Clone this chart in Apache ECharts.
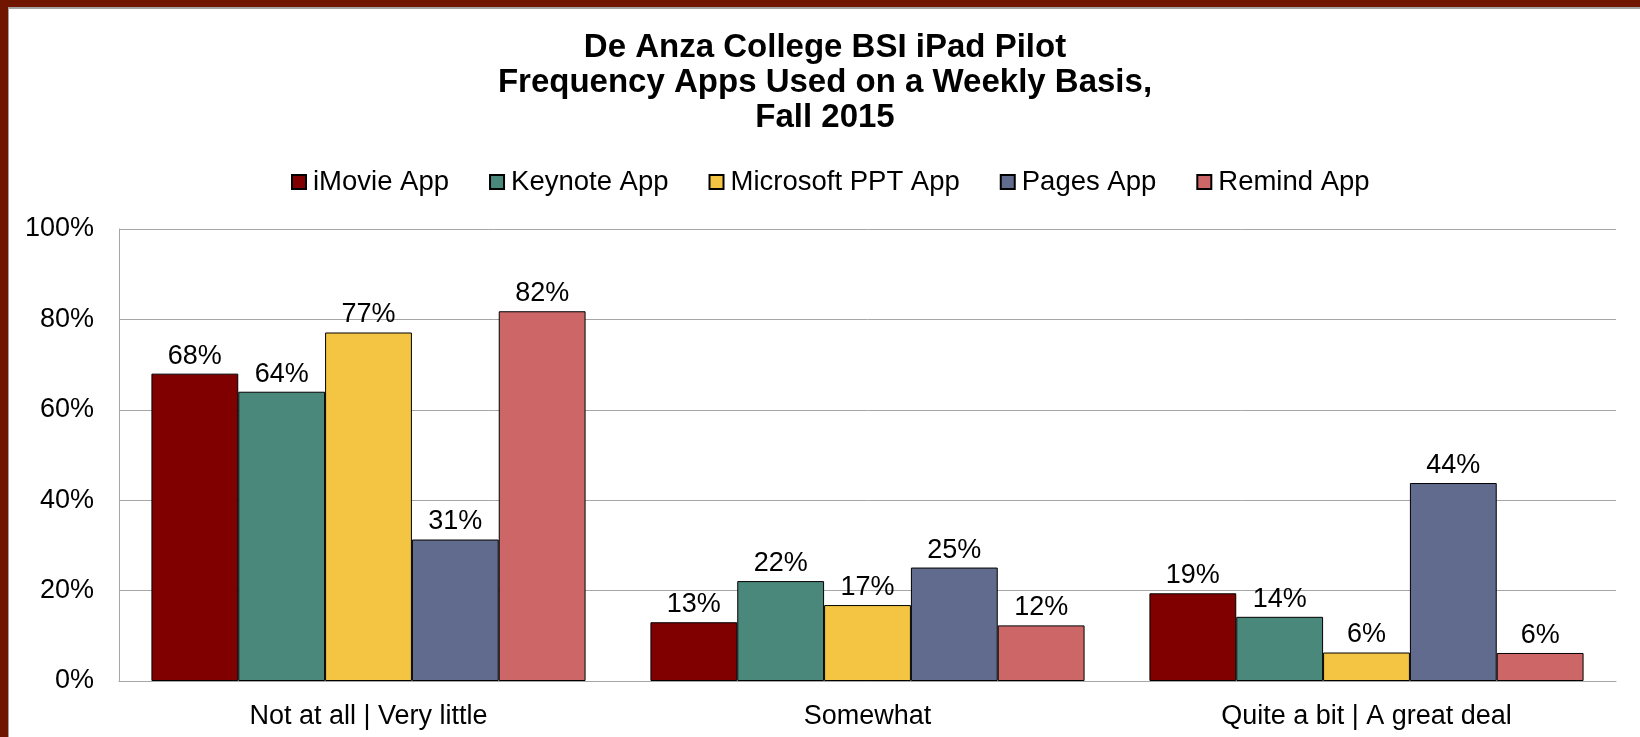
<!DOCTYPE html>
<html>
<head>
<meta charset="utf-8">
<title>De Anza College BSI iPad Pilot</title>
<script src="https://cdn.jsdelivr.net/npm/echarts@6/dist/echarts.min.js"></script>
<style>
  html, body { margin: 0; padding: 0; background: #fff; }
  #datachart { position: absolute; left: 0; top: 0; width: 1640px; height: 737px; }
  /* the maroon frame that sits round the original picture (top and left only) */
  .frame { position: absolute; left: 0; top: 0; width: 1640px; height: 737px; box-sizing: border-box;
    border-top: 7px solid #6f1500; border-left: 8px solid #6f1500; pointer-events: none; }
  .frame div { width: 100%; height: 100%; box-sizing: border-box;
    border-top: 2px solid #a3a3a3; border-left: 1px solid #a3a3a3; }
</style>
</head>
<body>
<div id="datachart"></div>
<div class="frame"><div></div></div>
<script>
  const categories = ['Not at all | Very little', 'Somewhat', 'Quite a bit | A great deal']
  const seriesNames = ['iMovie App', 'Keynote App', 'Microsoft PPT App', 'Pages App', 'Remind App']
  const imovie = [68.0, 13.0, 19.4]
  const keynote = [64.0, 22.1, 14.2]
  const microsoftPpt = [77.1, 16.8, 6.3]
  const pages = [31.3, 25.1, 43.8]
  const remind = [81.8, 12.3, 6.2]
  const yTicks = [0, 20, 40, 60, 80, 100]

  const colors = ['#800000', '#4a887b', '#f4c542', '#616b8d', '#cd6666']
  const values = [imovie, keynote, microsoftPpt, pages, remind]
  const font = "'Liberation Sans', Arial, sans-serif"

  const myChart = echarts.init(document.getElementById('datachart'))

  myChart.setOption({
    animation: false,
    backgroundColor: '#ffffff',
    title: {
      text: 'De Anza College BSI iPad Pilot\nFrequency Apps Used on a Weekly Basis,\nFall 2015',
      left: 825,
      textAlign: 'center',
      top: 30,
      padding: 0,
      textStyle: {
        fontFamily: font,
        fontSize: 33,
        fontWeight: 'bold',
        color: '#000',
        lineHeight: 35
      }
    },
    legend: {
      data: seriesNames,
      left: 286,
      top: 163,
      itemWidth: 14,
      itemHeight: 14,
      itemGap: 40,
      icon: 'rect',
      textStyle: {
        fontFamily: font,
        fontSize: 27.5,
        color: '#000',
        padding: [0, 0, 0, 2]
      }
    },
    grid: {
      left: 119,
      right: 24,
      top: 229,
      bottom: 56,
      containLabel: false
    },
    xAxis: {
      type: 'category',
      data: categories,
      axisTick: { show: false },
      axisLine: { show: true, lineStyle: { color: '#a6a6a6', width: 1 } },
      axisLabel: {
        margin: 22,
        fontFamily: font,
        fontSize: 27,
        color: '#000'
      }
    },
    yAxis: {
      type: 'value',
      min: yTicks[0],
      max: yTicks[yTicks.length - 1],
      interval: yTicks[1] - yTicks[0],
      axisLine: { show: true, lineStyle: { color: '#a6a6a6', width: 1 } },
      axisTick: { show: false },
      splitLine: { lineStyle: { color: '#a6a6a6', width: 1 } },
      axisLabel: {
        margin: 25,
        formatter: '{value}%',
        fontFamily: font,
        fontSize: 27,
        color: '#000'
      }
    },
    series: seriesNames.map(function (name, i) {
      return {
        name: name,
        type: 'bar',
        data: values[i],
        barGap: '0%',
        barCategoryGap: '13%',
        itemStyle: {
          color: colors[i],
          borderColor: '#000',
          borderWidth: 1
        },
        label: {
          show: true,
          position: 'top',
          distance: 4,
          fontFamily: font,
          fontSize: 27,
          color: '#000',
          formatter: function (p) { return Math.round(p.value) + '%' }
        }
      }
    })
  })
</script>
</body>
</html>
